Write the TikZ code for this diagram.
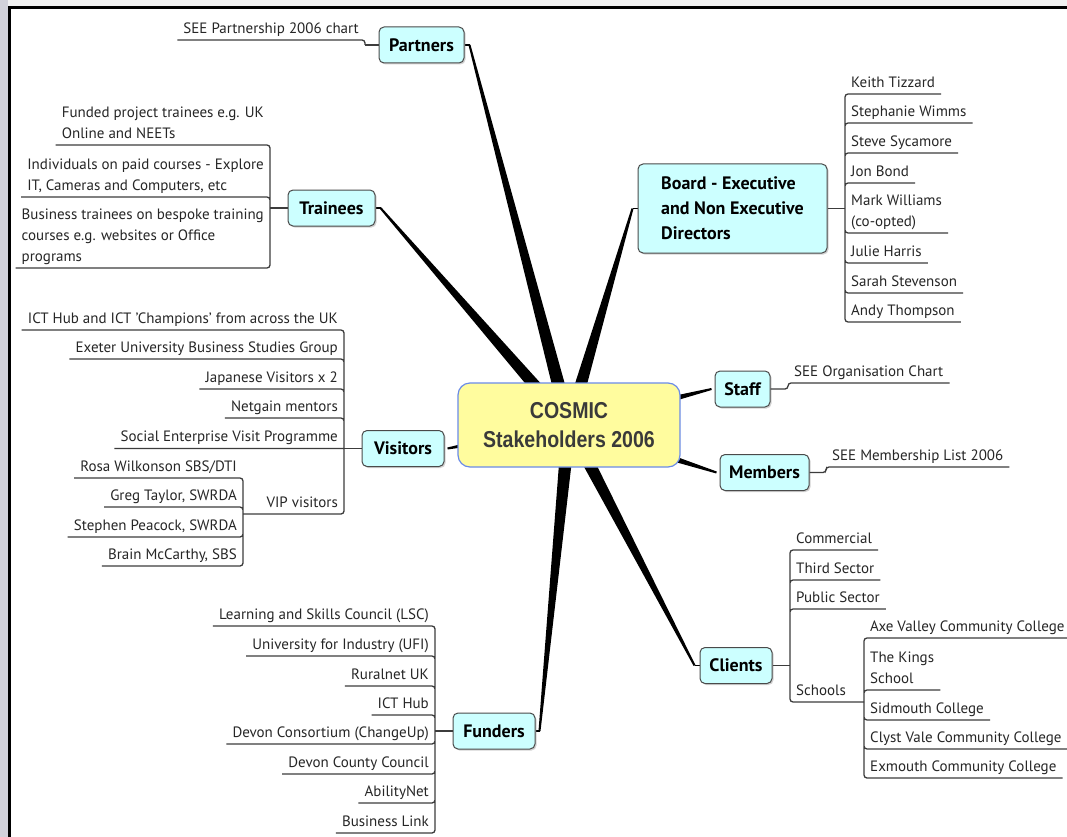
\documentclass[tikz,border=0pt]{standalone}
\usepackage{fontspec}
\setmainfont{PT Sans}
\newfontfamily\hubfamily[FakeStretch=0.85]{Liberation Sans}
\usetikzlibrary{calc,backgrounds,shadows}

\definecolor{hubfill}{HTML}{FFFC9E}
\definecolor{hubline}{HTML}{6A8BE8}
\definecolor{hubtext}{HTML}{3A3A3A}
\definecolor{branchfill}{HTML}{CCFFFF}
\definecolor{branchline}{HTML}{4A4A4A}
\definecolor{twigline}{HTML}{3C3C3C}
\definecolor{leaftext}{HTML}{262626}
\definecolor{sidegray}{HTML}{D2D2DA}
\definecolor{topgray}{HTML}{F2F2F2}

% tapered connector, thick at #1
\newcommand{\taper}[2]{\fill[limb] ($(#1)!7pt!90:(#2)$) -- ($(#2)!1pt!-90:(#1)$) -- ($(#2)!1pt!90:(#1)$) -- ($(#1)!7pt!-90:(#2)$) -- cycle;}

\begin{document}
\begin{tikzpicture}[x=1pt, y=-1pt,
    hubbox/.style={draw=hubline, fill=hubfill, line width=1.2pt, rounded corners=12pt, minimum width=222pt, minimum height=84pt, align=center, text=hubtext, font=\hubfamily\bfseries\fontsize{23}{29}\selectfont},
    branch/.style={draw=branchline, fill=branchfill, line width=1pt, rounded corners=5pt, minimum height=36pt, inner xsep=4pt, font=\bfseries\fontsize{18}{25}\selectfont,
      drop shadow={opacity=0.35, shadow xshift=1.5pt, shadow yshift=-1.5pt}},
    leaf/.style={inner xsep=6pt, inner ysep=3pt, text depth=3.5pt, text=leaftext, font=\fontsize{15}{21}\selectfont},
    twig/.style={draw=twigline, line width=1.3pt, rounded corners=3pt},
    tick/.style={line width=1.5pt},
    limb/.style={fill=black}]
  \useasboundingbox (0,0) rectangle (1067,837);

  % Centre
  \node[hubbox] (hub) at (569,425) {COSMIC\\Stakeholders 2006};

  % Main topics
  \node[branch, minimum width=85pt] (partners) at (421.5,45) {Partners};
  \node[branch, minimum width=87pt] (trainees) at (331.5,208) {Trainees};
  \node[branch, align=left, minimum width=189pt, minimum height=89pt] (board) at (732.5,208.5) {Board - Executive\\and Non Executive\\Directors};
  \node[branch, minimum width=82pt] (visitors) at (403,448.5) {Visitors};
  \node[branch, minimum width=55pt] (staff) at (742.5,389) {Staff};
  \node[branch, minimum width=89pt] (members) at (764.5,472.5) {Members};
  \node[branch, minimum width=72pt] (clients) at (736,665.5) {Clients};
  \node[branch, minimum width=82pt] (funders) at (494,731) {Funders};

  % Partners
  \coordinate (pfork) at (365,45);
  \node[leaf, anchor=south east] (p1) at (365,40) {SEE Partnership 2006 chart};
  \draw[twig] (partners.west) -- (pfork);
  \draw[twig] (pfork) |- (p1.south west);

  % Trainees
  \coordinate (tfork) at (270,208);
  \node[leaf, anchor=south east, align=left] (t1) at (270,145) {Funded project trainees e.g. UK\\Online and NEETs};
  \node[leaf, anchor=south east, align=left] (t2) at (270,197) {Individuals on paid courses - Explore\\IT, Cameras and Computers, etc};
  \node[leaf, anchor=south east, align=left] (t3) at (270,268) {Business trainees on bespoke training\\courses e.g. websites or Office\\programs};
  \draw[twig] (trainees.west) -- (tfork);
  \draw[twig] (tfork) |- (t1.south west) (tfork) |- (t2.south west) (tfork) |- (t3.south west);

  % Board
  \coordinate (bfork) at (845,208.5);
  \node[leaf, anchor=south west] (b1) at (845,94) {Keith Tizzard};
  \node[leaf, anchor=south west] (b2) at (845,123) {Stephanie Wimms};
  \node[leaf, anchor=south west] (b3) at (845,153) {Steve Sycamore};
  \node[leaf, anchor=south west] (b4) at (845,183) {Jon Bond};
  \node[leaf, anchor=south west, align=left] (b5) at (845,233) {Mark Williams\\(co-opted)};
  \node[leaf, anchor=south west] (b6) at (845,263) {Julie Harris};
  \node[leaf, anchor=south west] (b7) at (845,293) {Sarah Stevenson};
  \node[leaf, anchor=south west] (b8) at (845,322) {Andy Thompson};
  \draw[twig] (board.east) -- (bfork);
  \draw[twig] (bfork) |- (b1.south east) (bfork) |- (b2.south east) (bfork) |- (b3.south east) (bfork) |- (b4.south east)
    (bfork) |- (b5.south east) (bfork) |- (b6.south east) (bfork) |- (b7.south east) (bfork) |- (b8.south east);

  % Visitors
  \coordinate (vfork) at (344,448.5);
  \coordinate (vipfork) at (243,514);
  \node[leaf, anchor=south east] (v1) at (344,330) {ICT Hub and ICT 'Champions' from across the UK};
  \node[leaf, anchor=south east] (v2) at (344,359) {Exeter University Business Studies Group};
  \node[leaf, anchor=south east] (v3) at (344,389) {Japanese Visitors x 2};
  \node[leaf, anchor=south east] (v4) at (344,418) {Netgain mentors};
  \node[leaf, anchor=south east] (v5) at (344,448.5) {Social Enterprise Visit Programme};
  \node[leaf, anchor=south east] (v6) at (344,514) {VIP visitors};
  \node[leaf, anchor=south east] (r1) at (243,478) {Rosa Wilkonson SBS/DTI};
  \node[leaf, anchor=south east] (r2) at (243,507) {Greg Taylor, SWRDA};
  \node[leaf, anchor=south east] (r3) at (243,537) {Stephen Peacock, SWRDA};
  \node[leaf, anchor=south east] (r4) at (243,566) {Brain McCarthy, SBS};
  \draw[twig] (visitors.west) -- (vfork);
  \draw[twig] (vfork) |- (v1.south west) (vfork) |- (v2.south west) (vfork) |- (v3.south west) (vfork) |- (v4.south west)
    (vfork) -- (v5.south west) (vfork) |- (v6.south west) -- (vipfork);
  \draw[twig] (vipfork) |- (r1.south west) (vipfork) |- (r2.south west) (vipfork) |- (r3.south west) (vipfork) |- (r4.south west);

  % Staff and Members
  \coordinate (sfork) at (788,389);
  \coordinate (mfork) at (826,472.5);
  \node[leaf, anchor=south west] (s1) at (788,383) {SEE Organisation Chart};
  \node[leaf, anchor=south west] (m1) at (826,467) {SEE Membership List 2006};
  \draw[twig] (staff.east) -- (sfork) |- (s1.south east);
  \draw[twig] (members.east) -- (mfork) |- (m1.south east);

  % Clients
  \coordinate (cfork) at (790,665.5);
  \coordinate (schfork) at (864,702);
  \node[leaf, anchor=south west] (c1) at (790,550) {Commercial};
  \node[leaf, anchor=south west] (c2) at (790,580) {Third Sector};
  \node[leaf, anchor=south west] (c3) at (790,609) {Public Sector};
  \node[leaf, anchor=south west] (c4) at (790,702) {Schools};
  \node[leaf, anchor=south west] (d1) at (864,638) {Axe Valley Community College};
  \node[leaf, anchor=south west, align=left] (d2) at (864,690) {The Kings\\School};
  \node[leaf, anchor=south west] (d3) at (864,720) {Sidmouth College};
  \node[leaf, anchor=south west] (d4) at (864,749) {Clyst Vale Community College};
  \node[leaf, anchor=south west] (d5) at (864,778) {Exmouth Community College};
  \draw[twig] (clients.east) -- (cfork);
  \draw[twig] (cfork) |- (c1.south east) (cfork) |- (c2.south east) (cfork) |- (c3.south east) (cfork) |- (c4.south east) -- (schfork);
  \draw[twig] (schfork) |- (d1.south east) (schfork) |- (d2.south east) (schfork) |- (d3.south east) (schfork) |- (d4.south east) (schfork) |- (d5.south east);

  % Funders
  \coordinate (ffork) at (435,731);
  \node[leaf, anchor=south east] (f1) at (435,626) {Learning and Skills Council (LSC)};
  \node[leaf, anchor=south east] (f2) at (435,656) {University for Industry (UFI)};
  \node[leaf, anchor=south east] (f3) at (435,686) {Ruralnet UK};
  \node[leaf, anchor=south east] (f4) at (435,715) {ICT Hub};
  \node[leaf, anchor=south east] (f5) at (435,744) {Devon Consortium (ChangeUp)};
  \node[leaf, anchor=south east] (f6) at (435,774) {Devon County Council};
  \node[leaf, anchor=south east] (f7) at (435,803) {AbilityNet};
  \node[leaf, anchor=south east] (f8) at (435,833) {Business Link};
  \draw[twig] (funders.west) -- (ffork);
  \draw[twig] (ffork) |- (f1.south west) (ffork) |- (f2.south west) (ffork) |- (f3.south west) (ffork) |- (f4.south west)
    (ffork) |- (f5.south west) (ffork) |- (f6.south west) (ffork) |- (f7.south west) (ffork) |- (f8.south west);

  % Tapered links from the centre
  \coordinate (partnersT) at ([xshift=5pt]partners.east);
  \coordinate (traineesT) at ([xshift=5pt]trainees.east);
  \coordinate (boardT) at ([xshift=-5pt]board.west);
  \coordinate (visitorsT) at ([xshift=3pt]visitors.east);
  \coordinate (staffT) at ([xshift=-3pt]staff.west);
  \coordinate (membersT) at ([xshift=-3pt]members.west);
  \coordinate (clientsT) at ([xshift=-5pt]clients.west);
  \coordinate (fundersT) at ([xshift=4pt]funders.east);
  \begin{pgfonlayer}{background}
    \fill[white] (0,0) rectangle (1067,837);
    \fill[sidegray] (0,0) rectangle (8,837);
    \fill[topgray] (8,0) rectangle (1067,6);
    \draw[line width=3pt] (9.5,837) -- (9.5,7.5) -- (1067,7.5);
    \taper{hub.center}{partnersT}
    \taper{hub.center}{traineesT}
    \taper{hub.center}{boardT}
    \taper{hub.center}{visitorsT}
    \taper{hub.center}{staffT}
    \taper{hub.center}{membersT}
    \taper{hub.center}{clientsT}
    \taper{hub.center}{fundersT}
    \draw[tick] (partners.east) -- (partnersT) (trainees.east) -- (traineesT) (board.west) -- (boardT)
      (clients.west) -- (clientsT) (funders.east) -- (fundersT);
  \end{pgfonlayer}
\end{tikzpicture}
\end{document}
